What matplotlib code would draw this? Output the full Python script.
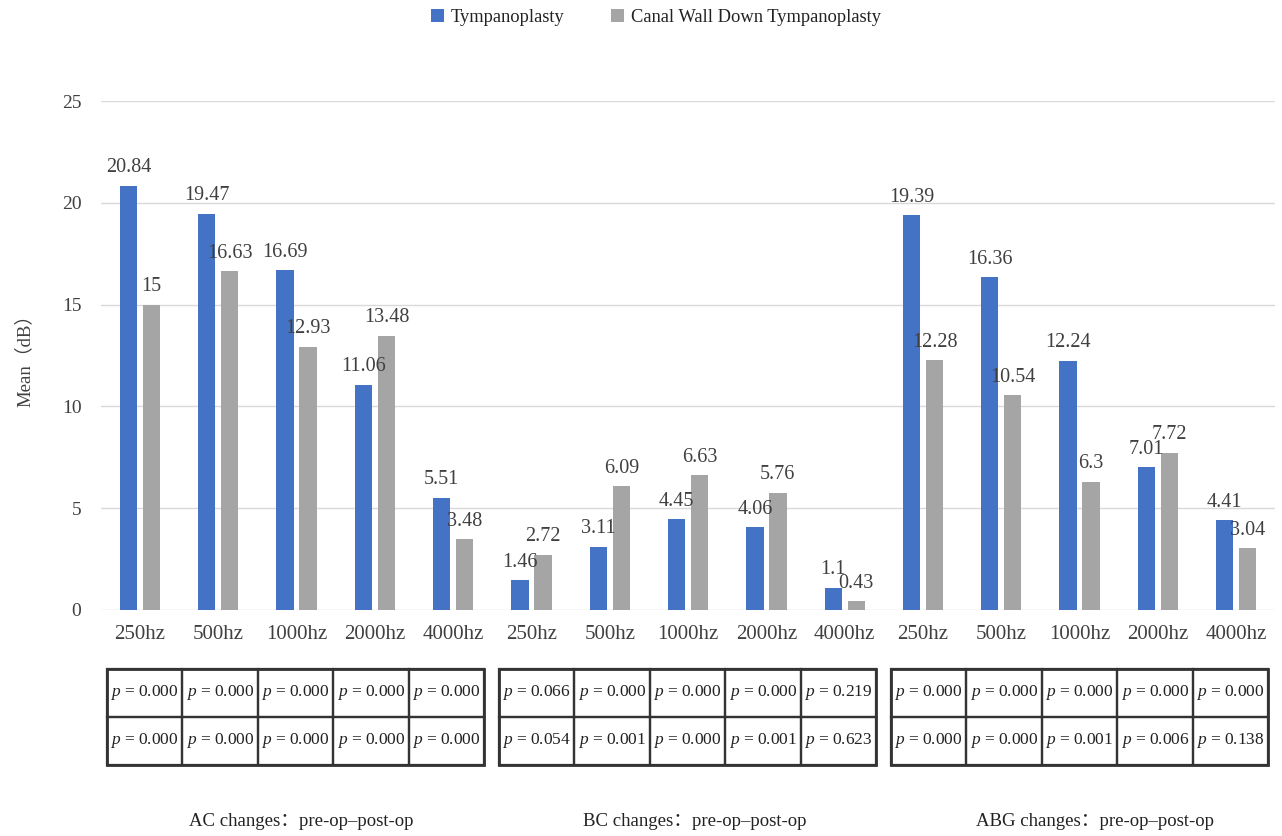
import matplotlib
matplotlib.use("Agg")
import matplotlib.pyplot as plt
from matplotlib.patches import Rectangle
import numpy as np

plt.rcParams["font.family"] = ["Liberation Serif", "Noto Sans CJK SC"]
plt.rcParams["mathtext.fontset"] = "custom"
plt.rcParams["mathtext.it"] = "Liberation Serif:italic"
plt.rcParams["mathtext.rm"] = "Liberation Serif"

# --- data ---
freqs = ["250hz", "500hz", "1000hz", "2000hz", "4000hz"]
groups = ["AC", "BC", "ABG"]
categories = freqs * 3

tympanoplasty = [20.84, 19.47, 16.69, 11.06, 5.51,
                 1.46, 3.11, 4.45, 4.06, 1.1,
                 19.39, 16.36, 12.24, 7.01, 4.41]
canal_wall_down = [15, 16.63, 12.93, 13.48, 3.48,
                   2.72, 6.09, 6.63, 5.76, 0.43,
                   12.28, 10.54, 6.3, 7.72, 3.04]

p_tympanoplasty = {
    "AC": ["0.000", "0.000", "0.000", "0.000", "0.000"],
    "BC": ["0.066", "0.000", "0.000", "0.000", "0.219"],
    "ABG": ["0.000", "0.000", "0.000", "0.000", "0.000"],
}
p_canal_wall_down = {
    "AC": ["0.000", "0.000", "0.000", "0.000", "0.000"],
    "BC": ["0.054", "0.001", "0.000", "0.001", "0.623"],
    "ABG": ["0.000", "0.000", "0.001", "0.006", "0.138"],
}

BLUE = "#4472C4"
GRAY = "#A5A5A5"
TEXT = "#404040"

W, H = 1282, 836
fig = plt.figure(figsize=(W / 100, H / 100), dpi=100)

# --- main bar chart ---
ax = fig.add_axes([100.85 / W, 1 - 610 / H, 1174.5 / W, 509 / H])
x = np.arange(len(categories))
bw = 0.22
off = 0.147
b1 = ax.bar(x - off, tympanoplasty, bw, color=BLUE, label="Tympanoplasty", zorder=3)
b2 = ax.bar(x + off, canal_wall_down, bw, color=GRAY, label="Canal Wall Down Tympanoplasty", zorder=3)

for bars in (b1, b2):
    for rect in bars:
        h = rect.get_height()
        ax.annotate(f"{h:g}", (rect.get_x() + rect.get_width() / 2, h),
                    xytext=(0, 6), textcoords="offset points",
                    ha="center", va="bottom", fontsize=14.5, color=TEXT)

ax.set_xlim(-0.5, len(categories) - 0.5)
ax.set_ylim(0, 25)
ax.set_yticks(range(0, 26, 5))
ax.set_xticks(x)
ax.set_xticklabels(categories)
ax.tick_params(axis="y", length=0, pad=14, labelsize=14, labelcolor=TEXT)
ax.tick_params(axis="x", length=0, pad=11, labelsize=15, labelcolor=TEXT)
ax.grid(axis="y", color="#D9D9D9", linewidth=1, zorder=0)
for s in ax.spines.values():
    s.set_visible(False)
ax.set_ylabel("Mean（dB）", fontsize=13.5, color=TEXT, labelpad=20)

fig.legend(handles=[b1, b2], loc="center", bbox_to_anchor=(656 / W, 1 - 17 / H),
           ncol=2, frameon=False, fontsize=13.3, handlelength=0.7, handleheight=0.7,
           handletextpad=0.4, columnspacing=2.5, labelcolor="#222222")

# --- p-value tables ---
box_left = [107, 499, 891]
box_w, box_top, box_bot = 377, 669, 765
label_x = [301, 695, 1095]

for gi, g in enumerate(groups):
    tax = fig.add_axes([box_left[gi] / W, 1 - box_bot / H, box_w / W, (box_bot - box_top) / H])
    tax.set_xlim(0, 5)
    tax.set_ylim(0, 2)
    tax.axis("off")
    rows = [p_tympanoplasty[g], p_canal_wall_down[g]]
    for ri, row in enumerate(rows):
        for ci, val in enumerate(row):
            y0 = 1 - ri
            tax.add_patch(Rectangle((ci, y0), 1, 1, fill=False, edgecolor="#333333",
                                    linewidth=1.6, clip_on=False))
            tax.text(ci + 0.5, y0 + 0.5, f"$p$ = {val}", ha="center", va="center",
                     fontsize=12.5, color="#222222")
    tax.add_patch(Rectangle((0, 0), 5, 2, fill=False, edgecolor="#333333",
                            linewidth=2, clip_on=False))
    fig.text(label_x[gi] / W, 1 - 822 / H, f"{g} changes：pre-op–post-op",
             ha="center", va="center", fontsize=13.5, color="#222222")

fig.savefig("out.png", dpi=100)
